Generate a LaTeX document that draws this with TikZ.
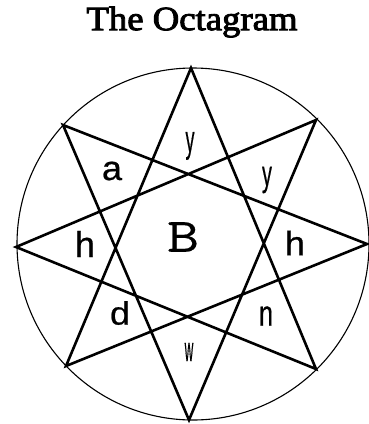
\documentclass[tikz,border=0pt]{standalone}
\usepackage{fontspec}
\setmainfont{Liberation Serif}
\newfontfamily\ttlfont[FakeBold=2.6]{Liberation Serif}
\newfontfamily\lblfont[FakeBold=0.6]{Liberation Sans}
\newfontfamily\bigfont[FakeBold=0.4]{Latin Modern Mono}
\begin{document}
\begin{tikzpicture}[x=1pt,y=-1pt,
  star/.style={line width=2.6pt,line join=miter,miter limit=3},
  ring/.style={line width=1.1pt},
  lbl/.style={inner sep=0pt,font=\lblfont\fontsize{36}{36}\selectfont},
  ttl/.style={inner sep=0pt,font=\ttlfont\fontsize{34}{34}\selectfont}]
\useasboundingbox (0,0) rectangle (369,424);
\coordinate (C) at (193,244);
\coordinate (vT) at (191,68);
\coordinate (vUR) at (316,120);
\coordinate (vR) at (367,244);
\coordinate (vLR) at (316,369);
\coordinate (vB) at (189,420);
\coordinate (vLL) at (66,366);
\coordinate (vL) at (16,247);
\coordinate (vUL) at (63,125);
\draw[ring] (C) circle[radius=176];
\draw[star] (vT) -- (vLR) -- (vL) -- (vUR) -- (vB) -- (vUL) -- (vR) -- (vLL) -- cycle;
\node[ttl] (title) at (192,22) {\scalebox{1.08}[1]{The Octagram}};
\node[lbl] (y1) at (190,146) {\scalebox{0.5}[1.05]{y}};
\node[lbl] (y2) at (267,180) {\scalebox{0.55}[1.0]{y}};
\node[lbl] (a) at (112,171) {\scalebox{1.0}[0.95]{a}};
\node[lbl] (h1) at (85,244) {\scalebox{1.0}[1.0]{h}};
\node[lbl] (h2) at (295,243) {\scalebox{1.0}[0.95]{h}};
\node[lbl] (d) at (120,313) {\scalebox{1.0}[0.9]{d}};
\node[lbl] (n) at (266,316) {\scalebox{0.7}[1.0]{n}};
\node[lbl] (w) at (189,352) {\scalebox{0.33}[0.95]{w}};
\node[inner sep=0pt,font=\bigfont\fontsize{46}{46}\selectfont] (B) at (183,237) {\scalebox{1.35}[1.05]{B}};
\end{tikzpicture}
\end{document}
